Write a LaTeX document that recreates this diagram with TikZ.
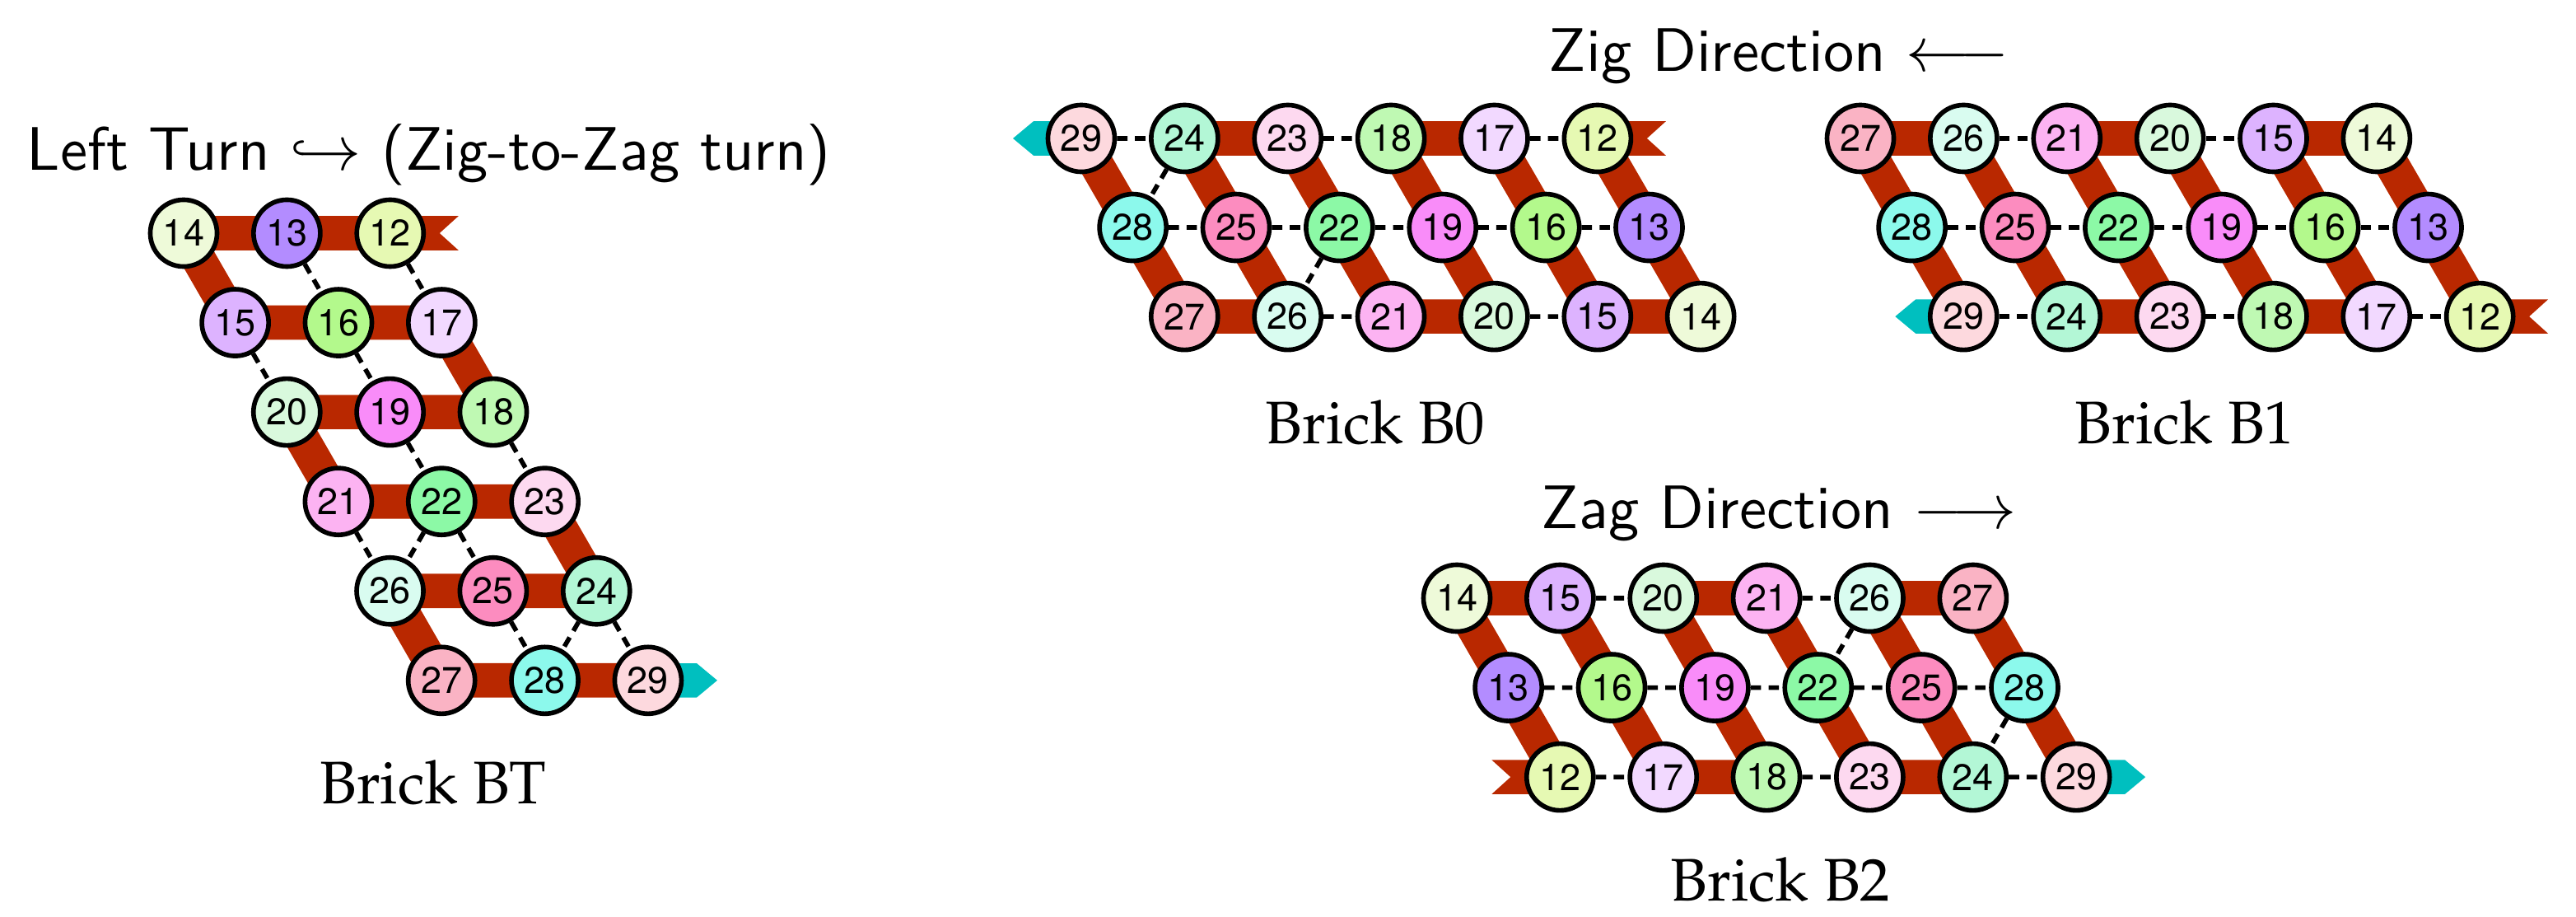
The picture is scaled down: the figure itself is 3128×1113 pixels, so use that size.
\documentclass[tikz,border=0pt]{standalone}
\usepackage[T1]{fontenc}
\usepackage{fontspec}
\usepackage{graphicx}
\usepackage{xcolor}
\usepackage{tikz}
\usetikzlibrary{backgrounds}

\newfontfamily\numfont{TeX Gyre Heros}
\newcommand\brickfont{\fontencoding{T1}\fontfamily{ppl}\fontsize{20.74}{25}\selectfont}
\newcommand\headfont{\sffamily\fontsize{10.6}{12}\selectfont}

\definecolor{bandred}{HTML}{B92800}
\definecolor{arrowteal}{HTML}{00BFBF}
\definecolor{col12}{HTML}{E6F9B3}
\definecolor{col13}{HTML}{B38CFF}
\definecolor{col14}{HTML}{EEFAD9}
\definecolor{col15}{HTML}{DDB3FF}
\definecolor{col16}{HTML}{B3F98C}
\definecolor{col17}{HTML}{F2D9FF}
\definecolor{col18}{HTML}{BFF9B3}
\definecolor{col19}{HTML}{F98CF9}
\definecolor{col20}{HTML}{D9F9DD}
\definecolor{col21}{HTML}{FCB3F2}
\definecolor{col22}{HTML}{8CF9A6}
\definecolor{col23}{HTML}{FDD9F0}
\definecolor{col24}{HTML}{B3F7D6}
\definecolor{col25}{HTML}{FC8CBF}
\definecolor{col26}{HTML}{D9FCF0}
\definecolor{col27}{HTML}{FAB3C4}
\definecolor{col28}{HTML}{8CF9EC}
\definecolor{col29}{HTML}{FDD9DE}

\begin{document}
\begin{tikzpicture}[x=0.01cm, y=-0.01cm,
  tile/.style={circle, draw, line width=1.6pt, minimum size=0.81cm, inner sep=0pt,
    font=\numfont\fontsize{12.8}{14}\selectfont},
  band/.style={draw=bandred, line width=0.417cm, line join=round},
  bond/.style={line width=1.6pt, dash pattern=on 3.6pt off 2.6pt},
  headtext/.style={font=\headfont, inner sep=0pt, anchor=base west},
  brickname/.style={font=\brickfont, inner sep=0pt, anchor=base}]
\useasboundingbox (0,0) rectangle (3128,1113);

% Brick BT (left turn)
\begin{scope}[shift={(223,283)}, x={(1.253cm,0cm)}, y={(0.626cm,-1.085cm)}]
\node[tile,fill=col14] (t14) at (0,0) {14}; \node[tile,fill=col13] (t13) at (1,0) {13}; \node[tile,fill=col12] (t12) at (2,0) {12};
\node[tile,fill=col15] (t15) at (0,1) {15}; \node[tile,fill=col16] (t16) at (1,1) {16}; \node[tile,fill=col17] (t17) at (2,1) {17};
\node[tile,fill=col20] (t20) at (0,2) {20}; \node[tile,fill=col19] (t19) at (1,2) {19}; \node[tile,fill=col18] (t18) at (2,2) {18};
\node[tile,fill=col21] (t21) at (0,3) {21}; \node[tile,fill=col22] (t22) at (1,3) {22}; \node[tile,fill=col23] (t23) at (2,3) {23};
\node[tile,fill=col26] (t26) at (0,4) {26}; \node[tile,fill=col25] (t25) at (1,4) {25}; \node[tile,fill=col24] (t24) at (2,4) {24};
\node[tile,fill=col27] (t27) at (0,5) {27}; \node[tile,fill=col28] (t28) at (1,5) {28}; \node[tile,fill=col29] (t29) at (2,5) {29};
\end{scope}

% Brick B0 (zig)
\begin{scope}[shift={(1313,168)}, x={(1.253cm,0cm)}, y={(0.626cm,-1.08cm)}]
\node[tile,fill=col29] (a29) at (0,0) {29}; \node[tile,fill=col24] (a24) at (1,0) {24}; \node[tile,fill=col23] (a23) at (2,0) {23};
\node[tile,fill=col18] (a18) at (3,0) {18}; \node[tile,fill=col17] (a17) at (4,0) {17}; \node[tile,fill=col12] (a12) at (5,0) {12};
\node[tile,fill=col28] (a28) at (0,1) {28}; \node[tile,fill=col25] (a25) at (1,1) {25}; \node[tile,fill=col22] (a22) at (2,1) {22};
\node[tile,fill=col19] (a19) at (3,1) {19}; \node[tile,fill=col16] (a16) at (4,1) {16}; \node[tile,fill=col13] (a13) at (5,1) {13};
\node[tile,fill=col27] (a27) at (0,2) {27}; \node[tile,fill=col26] (a26) at (1,2) {26}; \node[tile,fill=col21] (a21) at (2,2) {21};
\node[tile,fill=col20] (a20) at (3,2) {20}; \node[tile,fill=col15] (a15) at (4,2) {15}; \node[tile,fill=col14] (a14) at (5,2) {14};
\end{scope}

% Brick B1 (zig)
\begin{scope}[shift={(2259,168)}, x={(1.253cm,0cm)}, y={(0.626cm,-1.08cm)}]
\node[tile,fill=col27] (b27) at (0,0) {27}; \node[tile,fill=col26] (b26) at (1,0) {26}; \node[tile,fill=col21] (b21) at (2,0) {21};
\node[tile,fill=col20] (b20) at (3,0) {20}; \node[tile,fill=col15] (b15) at (4,0) {15}; \node[tile,fill=col14] (b14) at (5,0) {14};
\node[tile,fill=col28] (b28) at (0,1) {28}; \node[tile,fill=col25] (b25) at (1,1) {25}; \node[tile,fill=col22] (b22) at (2,1) {22};
\node[tile,fill=col19] (b19) at (3,1) {19}; \node[tile,fill=col16] (b16) at (4,1) {16}; \node[tile,fill=col13] (b13) at (5,1) {13};
\node[tile,fill=col29] (b29) at (0,2) {29}; \node[tile,fill=col24] (b24) at (1,2) {24}; \node[tile,fill=col23] (b23) at (2,2) {23};
\node[tile,fill=col18] (b18) at (3,2) {18}; \node[tile,fill=col17] (b17) at (4,2) {17}; \node[tile,fill=col12] (b12) at (5,2) {12};
\end{scope}

% Brick B2 (zag)
\begin{scope}[shift={(1769,726)}, x={(1.253cm,0cm)}, y={(0.626cm,-1.085cm)}]
\node[tile,fill=col14] (c14) at (0,0) {14}; \node[tile,fill=col15] (c15) at (1,0) {15}; \node[tile,fill=col20] (c20) at (2,0) {20};
\node[tile,fill=col21] (c21) at (3,0) {21}; \node[tile,fill=col26] (c26) at (4,0) {26}; \node[tile,fill=col27] (c27) at (5,0) {27};
\node[tile,fill=col13] (c13) at (0,1) {13}; \node[tile,fill=col16] (c16) at (1,1) {16}; \node[tile,fill=col19] (c19) at (2,1) {19};
\node[tile,fill=col22] (c22) at (3,1) {22}; \node[tile,fill=col25] (c25) at (4,1) {25}; \node[tile,fill=col28] (c28) at (5,1) {28};
\node[tile,fill=col12] (c12) at (0,2) {12}; \node[tile,fill=col17] (c17) at (1,2) {17}; \node[tile,fill=col18] (c18) at (2,2) {18};
\node[tile,fill=col23] (c23) at (3,2) {23}; \node[tile,fill=col24] (c24) at (4,2) {24}; \node[tile,fill=col29] (c29) at (5,2) {29};
\end{scope}

\begin{pgfonlayer}{background}
% tile paths 12 -> 29
\draw[band] (t12.center) -- (t13.center) -- (t14.center) -- (t15.center) -- (t16.center) -- (t17.center) -- (t18.center) -- (t19.center) -- (t20.center)
  -- (t21.center) -- (t22.center) -- (t23.center) -- (t24.center) -- (t25.center) -- (t26.center) -- (t27.center) -- (t28.center) -- (t29.center);
\draw[band] (a12.center) -- (a13.center) -- (a14.center) -- (a15.center) -- (a16.center) -- (a17.center) -- (a18.center) -- (a19.center) -- (a20.center)
  -- (a21.center) -- (a22.center) -- (a23.center) -- (a24.center) -- (a25.center) -- (a26.center) -- (a27.center) -- (a28.center) -- (a29.center);
\draw[band] (b12.center) -- (b13.center) -- (b14.center) -- (b15.center) -- (b16.center) -- (b17.center) -- (b18.center) -- (b19.center) -- (b20.center)
  -- (b21.center) -- (b22.center) -- (b23.center) -- (b24.center) -- (b25.center) -- (b26.center) -- (b27.center) -- (b28.center) -- (b29.center);
\draw[band] (c12.center) -- (c13.center) -- (c14.center) -- (c15.center) -- (c16.center) -- (c17.center) -- (c18.center) -- (c19.center) -- (c20.center)
  -- (c21.center) -- (c22.center) -- (c23.center) -- (c24.center) -- (c25.center) -- (c26.center) -- (c27.center) -- (c28.center) -- (c29.center);

% input tails and output arrows
\fill[bandred] (t12.center) ++(0,-20.8) -- ++(83,0) -- ++(-23,20.8) -- ++(23,20.8) -- ++(-83,0) -- cycle;
\fill[bandred] (a12.center) ++(0,-20.8) -- ++(83,0) -- ++(-23,20.8) -- ++(23,20.8) -- ++(-83,0) -- cycle;
\fill[bandred] (b12.center) ++(0,-20.8) -- ++(83,0) -- ++(-23,20.8) -- ++(23,20.8) -- ++(-83,0) -- cycle;
\fill[bandred] (c12.center) ++(0,-20.8) -- ++(-83,0) -- ++(23,20.8) -- ++(-23,20.8) -- ++(83,0) -- cycle;
\fill[arrowteal] (t29.center) ++(0,-20.8) -- ++(59,0) -- ++(25,20.8) -- ++(-25,20.8) -- ++(-59,0) -- cycle;
\fill[arrowteal] (a29.center) ++(0,-20.8) -- ++(-58,0) -- ++(-25,20.8) -- ++(25,20.8) -- ++(58,0) -- cycle;
\fill[arrowteal] (b29.center) ++(0,-20.8) -- ++(-58,0) -- ++(-25,20.8) -- ++(25,20.8) -- ++(58,0) -- cycle;
\fill[arrowteal] (c29.center) ++(0,-20.8) -- ++(59,0) -- ++(25,20.8) -- ++(-25,20.8) -- ++(-59,0) -- cycle;

% other bonds
\draw[bond] (t13) -- (t16) (t12) -- (t17) (t15) -- (t20) (t16) -- (t19) (t19) -- (t22) (t18) -- (t23)
  (t21) -- (t26) (t22) -- (t26) (t22) -- (t25) (t25) -- (t28) (t24) -- (t28) (t24) -- (t29);
\draw[bond] (a29) -- (a24) (a23) -- (a18) (a17) -- (a12) (a28) -- (a25) (a25) -- (a22) (a22) -- (a19)
  (a19) -- (a16) (a16) -- (a13) (a26) -- (a21) (a20) -- (a15) (a24) -- (a28) (a22) -- (a26);
\draw[bond] (b26) -- (b21) (b20) -- (b15) (b28) -- (b25) (b25) -- (b22) (b22) -- (b19)
  (b19) -- (b16) (b16) -- (b13) (b29) -- (b24) (b23) -- (b18) (b17) -- (b12);
\draw[bond] (c15) -- (c20) (c21) -- (c26) (c13) -- (c16) (c16) -- (c19) (c19) -- (c22) (c22) -- (c25)
  (c25) -- (c28) (c12) -- (c17) (c18) -- (c23) (c24) -- (c29) (c26) -- (c22) (c28) -- (c24);
\end{pgfonlayer}

% titles and captions
\node[headtext] (turn) at (32,207) {\scalebox{2}{Left Turn $\hookrightarrow$ (Zig-to-Zag turn)}};
\node[headtext] (zig) at (1880,87) {\scalebox{2}{Zig Direction $\longleftarrow$}};
\node[headtext] (zag) at (1871,642) {\scalebox{2}{Zag Direction $\longrightarrow$}};
\node[brickname] (nameBT) at (526,975) {Brick BT};
\node[brickname] (nameB0) at (1670,538) {Brick B0};
\node[brickname] (nameB1) at (2653,538) {Brick B1};
\node[brickname] (nameB2) at (2162,1093) {Brick B2};
\end{tikzpicture}
\end{document}
